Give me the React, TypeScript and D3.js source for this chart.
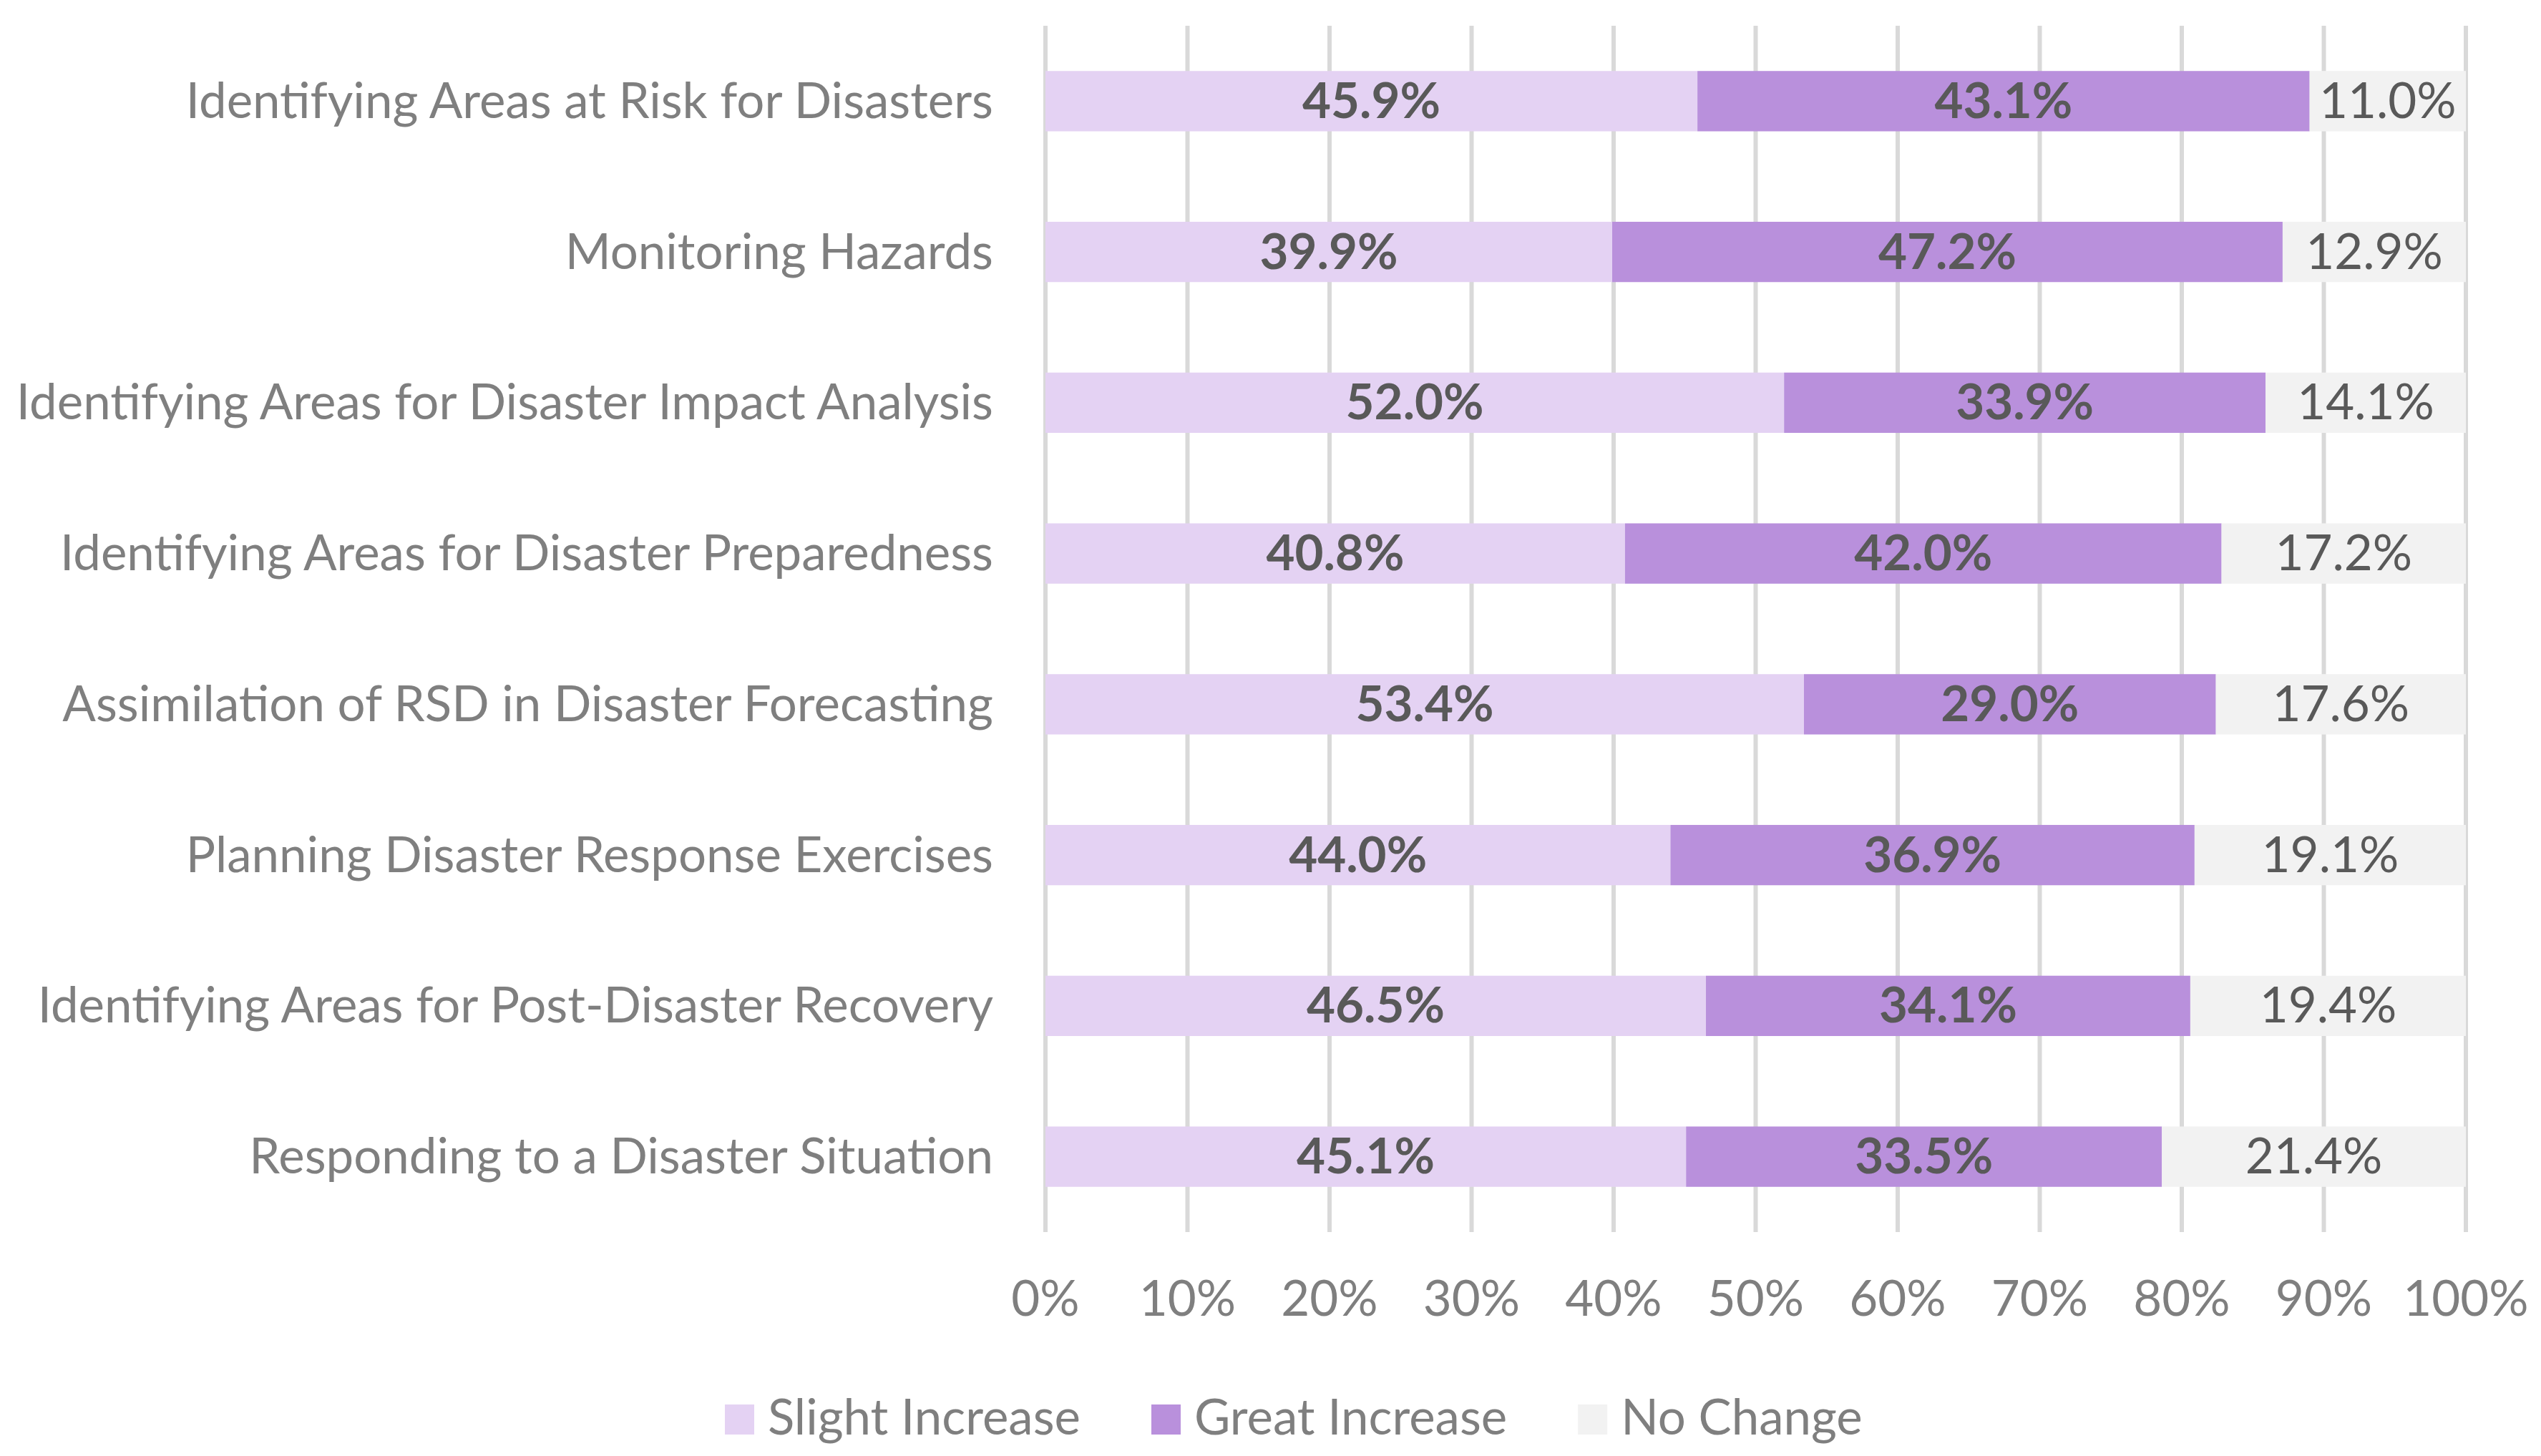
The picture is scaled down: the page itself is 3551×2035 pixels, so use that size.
import { useEffect, useRef } from "react";
import * as d3 from "d3";

// Stacked 100% horizontal bars: change in use of remote sensing data per task
const CATEGORIES = [
  "Identifying Areas at Risk for Disasters",
  "Monitoring Hazards",
  "Identifying Areas for Disaster Impact Analysis",
  "Identifying Areas for Disaster Preparedness",
  "Assimilation of RSD in Disaster Forecasting",
  "Planning Disaster Response Exercises",
  "Identifying Areas for Post-Disaster Recovery",
  "Responding to a Disaster Situation",
];
const SLIGHT_INCREASE = [45.9, 39.9, 52.0, 40.8, 53.4, 44.0, 46.5, 45.1];
const GREAT_INCREASE = [43.1, 47.2, 33.9, 42.0, 29.0, 36.9, 34.1, 33.5];
const NO_CHANGE = [11.0, 12.9, 14.1, 17.2, 17.6, 19.1, 19.4, 21.4];
const SERIES = ["Slight Increase", "Great Increase", "No Change"];
const X_TICKS = [0, 10, 20, 30, 40, 50, 60, 70, 80, 90, 100];

const COLORS = ["#e4d2f3", "#b990dc", "#f2f2f2"];
const FONT = "Lato, 'Noto Sans', sans-serif";

export default function App() {
  const svgRef = useRef<SVGSVGElement>(null);
  const width = 3551;
  const height = 2035;

  useEffect(() => {
    document.body.style.margin = "0";
    if (!svgRef.current) return;
    const svg = d3.select(svgRef.current);
    svg.selectAll("*").remove();

    const x = d3.scaleLinear().domain([0, 100]).range([1461, 3446]);
    const y = d3.scaleBand<string>().domain(CATEGORIES).range([36, 1722])
      .paddingInner(0.6).paddingOuter(0.3);

    const fs = 69;
    const cap = fs * 0.34; // half cap height, to centre text on a point

    // gridlines
    svg.append("g").selectAll("line").data(X_TICKS).join("line")
      .attr("x1", (d) => x(d)).attr("x2", (d) => x(d))
      .attr("y1", 36).attr("y2", 1722)
      .attr("stroke", "#d9d9d9").attr("stroke-width", 6);

    // stacked bars
    const rows = CATEGORIES.map((c, i) => ({
      cat: c,
      [SERIES[0]]: SLIGHT_INCREASE[i],
      [SERIES[1]]: GREAT_INCREASE[i],
      [SERIES[2]]: NO_CHANGE[i],
    }));
    const stacked = d3.stack<any>().keys(SERIES)(rows);

    stacked.forEach((layer, si) => {
      const g = svg.append("g");
      g.selectAll("rect").data(layer).join("rect")
        .attr("x", (d) => x(d[0]))
        .attr("width", (d) => x(d[1]) - x(d[0]))
        .attr("y", (d) => y(d.data.cat)!)
        .attr("height", y.bandwidth())
        .attr("fill", COLORS[si]);
      g.selectAll("text").data(layer).join("text")
        .attr("x", (d) => x((d[0] + d[1]) / 2))
        .attr("y", (d) => y(d.data.cat)! + y.bandwidth() / 2 + cap)
        .attr("text-anchor", "middle")
        .attr("font-family", FONT).attr("font-size", fs)
        .attr("font-weight", si < 2 ? 700 : 400)
        .attr("fill", "#595959")
        .text((d) => `${(d[1] - d[0]).toFixed(1)}%`);
    });

    // category labels
    svg.append("g").selectAll("text").data(CATEGORIES).join("text")
      .attr("x", 1388)
      .attr("y", (d) => y(d)! + y.bandwidth() / 2 + cap)
      .attr("text-anchor", "end")
      .attr("font-family", FONT).attr("font-size", fs)
      .attr("fill", "#7f7f7f")
      .text((d) => d);

    // x tick labels
    svg.append("g").selectAll("text").data(X_TICKS).join("text")
      .attr("x", (d) => x(d)).attr("y", 1839)
      .attr("text-anchor", "middle")
      .attr("font-family", FONT).attr("font-size", fs)
      .attr("fill", "#7f7f7f")
      .text((d) => `${d}%`);

    // legend
    const leg = svg.append("g");
    let lx = 1013;
    SERIES.forEach((name, i) => {
      leg.append("rect")
        .attr("x", lx).attr("y", 1963).attr("width", 41).attr("height", 42)
        .attr("fill", COLORS[i]);
      const t = leg.append("text")
        .attr("x", lx + 60).attr("y", 2005)
        .attr("font-family", FONT).attr("font-size", fs)
        .attr("fill", "#7f7f7f")
        .text(name);
      const w = (t.node() as SVGTextElement).getComputedTextLength();
      lx += 60 + w + 99;
    });
  }, []);

  return <svg ref={svgRef} width={width} height={height} style={{ display: "block", background: "#fff" }} />;
}
